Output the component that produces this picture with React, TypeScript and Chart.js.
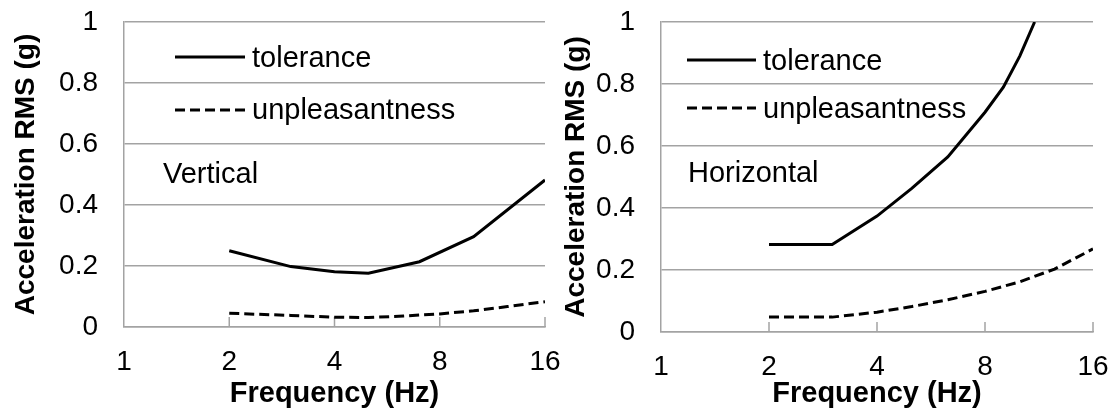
import React, { useEffect, useRef } from "react";
import { Chart, registerables } from "chart.js";

Chart.register(...registerables);

// Axis ticks
const freqTicks = [1, 2, 4, 8, 16];
const accTicks = [0, 0.2, 0.4, 0.6, 0.8, 1];
const accTickLabels = ["0", "0.2", "0.4", "0.6", "0.8", "1"];

// Vertical vibration limits (frequency in Hz, acceleration RMS in g)
const vertTolFreq = [2, 3, 4, 5, 7, 10, 16];
const vertTolAcc = [0.25, 0.198, 0.181, 0.176, 0.214, 0.296, 0.482];
const vertUnpFreq = [2, 3, 4, 5, 6.3, 8, 10, 12.5, 16];
const vertUnpAcc = [0.045, 0.038, 0.032, 0.031, 0.036, 0.043, 0.053, 0.067, 0.083];

// Horizontal vibration limits
const horTolFreq = [2, 3, 4, 5, 6.3, 8, 9, 10, 11];
const horTolAcc = [0.282, 0.282, 0.374, 0.463, 0.565, 0.709, 0.79, 0.89, 1.0];
const horUnpFreq = [2, 3, 4, 5, 6.3, 8, 10, 12.5, 16];
const horUnpAcc = [0.048, 0.048, 0.064, 0.082, 0.104, 0.131, 0.162, 0.203, 0.268];

const seriesNames = ["tolerance", "unpleasantness"];

const GRID = "#a3a3a3";
const INK = "#000000";
const FONT = '"Liberation Sans", Arial, Helvetica, sans-serif';
const DASH = [10, 5];

type PanelSpec = {
  label: string;
  tolFreq: number[];
  tolAcc: number[];
  unpFreq: number[];
  unpAcc: number[];
  left: number;
  width: number;
  yWidth: number;
  xHeight: number;
  padRight: number;
  yTitlePad: number;
  legend: { lineX0: number; lineX1: number; textX: number; tolY: number; unpY: number; tolBase: number; unpBase: number; labelX: number; labelBase: number };
};

const panels: PanelSpec[] = [
  {
    label: "Vertical",
    tolFreq: vertTolFreq,
    tolAcc: vertTolAcc,
    unpFreq: vertUnpFreq,
    unpAcc: vertUnpAcc,
    left: 0,
    width: 580,
    yWidth: 124,
    xHeight: 87,
    padRight: 35,
    yTitlePad: 9,
    legend: { lineX0: 51, lineX1: 121, textX: 128, tolY: 35, unpY: 88, tolBase: 45, unpBase: 97, labelX: 39, labelBase: 161 },
  },
  {
    label: "Horizontal",
    tolFreq: horTolFreq,
    tolAcc: horTolAcc,
    unpFreq: horUnpFreq,
    unpAcc: horUnpAcc,
    left: 557,
    width: 557,
    yWidth: 104,
    xHeight: 82,
    padRight: 21,
    yTitlePad: 2,
    legend: { lineX0: 26, lineX1: 95, textX: 102, tolY: 38, unpY: 86, tolBase: 48, unpBase: 96, labelX: 27, labelBase: 160 },
  },
];

const toPoints = (xs: number[], ys: number[]) => xs.map((x, i) => ({ x, y: ys[i] }));

const overlayPlugin = {
  id: "overlay",
  beforeDatasetsDraw(chart: any) {
    const { ctx, chartArea } = chart;
    const xs = chart.scales.x;
    ctx.save();
    ctx.strokeStyle = GRID;
    ctx.lineWidth = 1.5;
    for (const t of freqTicks.slice(1)) {
      const px = xs.getPixelForValue(t);
      ctx.beginPath();
      ctx.moveTo(px, chartArea.bottom);
      ctx.lineTo(px, chartArea.bottom - 10);
      ctx.stroke();
    }
    ctx.restore();
  },
  afterDatasetsDraw(chart: any, _args: any, opts: any) {
    const spec: PanelSpec = opts.spec;
    if (!spec) return;
    const { ctx, chartArea } = chart;
    const L = spec.legend;
    const x0 = chartArea.left;
    const y0 = chartArea.top;
    ctx.save();
    ctx.strokeStyle = INK;
    ctx.lineWidth = 3;
    ctx.setLineDash([]);
    ctx.beginPath();
    ctx.moveTo(x0 + L.lineX0, y0 + L.tolY);
    ctx.lineTo(x0 + L.lineX1, y0 + L.tolY);
    ctx.stroke();
    ctx.setLineDash(DASH);
    ctx.beginPath();
    ctx.moveTo(x0 + L.lineX0, y0 + L.unpY);
    ctx.lineTo(x0 + L.lineX1, y0 + L.unpY);
    ctx.stroke();
    ctx.setLineDash([]);
    ctx.fillStyle = INK;
    ctx.font = `29px ${FONT}`;
    ctx.textAlign = "left";
    ctx.textBaseline = "alphabetic";
    ctx.fillText(seriesNames[0], x0 + L.textX, y0 + L.tolBase);
    ctx.fillText(seriesNames[1], x0 + L.textX, y0 + L.unpBase);
    ctx.fillText(spec.label, x0 + L.labelX, y0 + L.labelBase);
    ctx.restore();
  },
};

function Panel({ spec }: { spec: PanelSpec }) {
  const ref = useRef<HTMLCanvasElement | null>(null);

  useEffect(() => {
    if (!ref.current) return;
    const chart = new Chart(ref.current, {
      type: "line",
      data: {
        datasets: [
          {
            label: seriesNames[0],
            data: toPoints(spec.tolFreq, spec.tolAcc),
            borderColor: INK,
            borderWidth: 3,
            pointRadius: 0,
            tension: 0,
            fill: false,
          },
          {
            label: seriesNames[1],
            data: toPoints(spec.unpFreq, spec.unpAcc),
            borderColor: INK,
            borderWidth: 3,
            borderDash: DASH,
            pointRadius: 0,
            tension: 0,
            fill: false,
          },
        ],
      },
      options: {
        animation: false,
        responsive: false,
        events: [],
        layout: { padding: { left: 0, right: spec.padRight, top: 22, bottom: 0 } },
        plugins: {
          legend: { display: false },
          tooltip: { enabled: false },
          overlay: { spec },
        } as any,
        scales: {
          x: {
            type: "logarithmic",
            min: 1,
            max: 16,
            afterBuildTicks: (s: any) => {
              s.ticks = freqTicks.map((v) => ({ value: v }));
            },
            afterFit: (s: any) => {
              s.height = spec.xHeight;
              s.paddingLeft = 0;
              s.paddingRight = 0;
            },
            grid: { display: false, drawTicks: false },
            border: { display: true, color: GRID, width: 1.5 },
            ticks: {
              autoSkip: false,
              maxRotation: 0,
              padding: 18,
              color: INK,
              font: { family: FONT, size: 28 },
              callback: (v: any) => String(v),
            },
            title: {
              display: true,
              text: "Frequency (Hz)",
              color: INK,
              font: { family: FONT, size: 29, weight: "bold" },
              padding: { top: 0, bottom: 3 },
            },
          },
          y: {
            type: "linear",
            min: 0,
            max: 1,
            afterBuildTicks: (s: any) => {
              s.ticks = accTicks.map((v) => ({ value: v }));
            },
            afterFit: (s: any) => {
              s.width = spec.yWidth;
              s.paddingTop = 0;
              s.paddingBottom = 0;
            },
            grid: { color: GRID, lineWidth: 1.5, drawTicks: false },
            border: { display: true, color: GRID, width: 1.5 },
            ticks: {
              padding: 26,
              color: INK,
              font: { family: FONT, size: 28 },
              callback: (_v: any, i: number) => accTickLabels[i],
            },
            title: {
              display: true,
              text: "Acceleration RMS (g)",
              color: INK,
              font: { family: FONT, size: 28, weight: "bold" },
              padding: { top: spec.yTitlePad, bottom: 0 },
            },
          },
        },
      },
      plugins: [overlayPlugin],
    } as any);
    return () => chart.destroy();
  }, [spec]);

  return (
    <canvas
      ref={ref}
      width={spec.width}
      height={414}
      style={{ position: "absolute", left: spec.left, top: 0, display: "block", width: spec.width, height: 414 }}
    />
  );
}

export default function App() {
  return (
    <div style={{ position: "fixed", left: 0, top: 0, width: 1114, height: 414, background: "#fff" }}>
      {panels.map((p) => (
        <Panel key={p.label} spec={p} />
      ))}
    </div>
  );
}
